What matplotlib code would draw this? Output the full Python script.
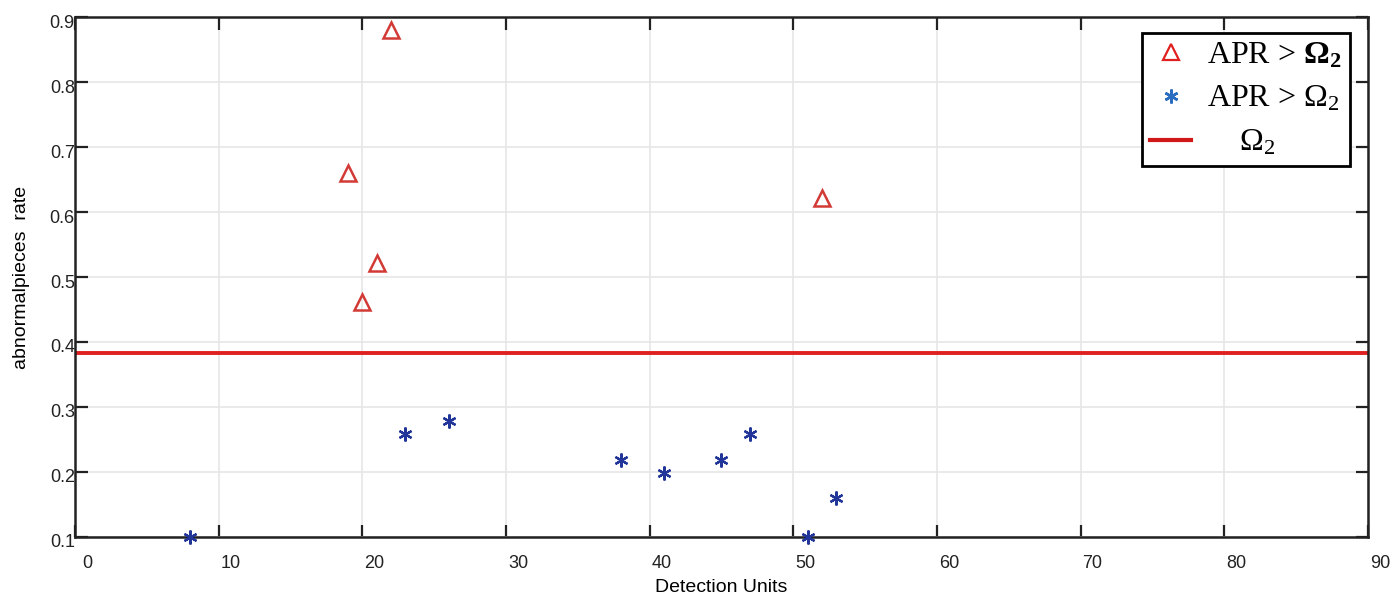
import matplotlib
matplotlib.use("Agg")
import matplotlib.pyplot as plt
import matplotlib.transforms as mtransforms
from matplotlib.lines import Line2D

plt.rcParams['font.family'] = ['Liberation Sans', 'DejaVu Sans']
plt.rcParams['mathtext.fontset'] = 'custom'
plt.rcParams['mathtext.rm'] = 'Liberation Serif'
plt.rcParams['mathtext.it'] = 'Liberation Serif:italic'
plt.rcParams['mathtext.bf'] = 'Liberation Serif:bold'

##### DATA
# units above the threshold (triangles)
above_x = [22, 19, 21, 20, 52]
above_y = [0.88, 0.66, 0.522, 0.462, 0.622]

# units below the threshold (asterisks)
below_x = [8, 23, 26, 38, 41, 45, 47, 51, 53]
below_y = [0.10, 0.258, 0.278, 0.218, 0.198, 0.218, 0.258, 0.10, 0.16]

# threshold Omega_2
omega2 = 0.383

x_ticks = [0, 10, 20, 30, 40, 50, 60, 70, 80, 90]
y_ticks = [0.1, 0.2, 0.3, 0.4, 0.5, 0.6, 0.7, 0.8, 0.9]

red = '#d23a36'
blue = '#22369a'

##### PLOTTING
fig = plt.figure(figsize=(13.94, 6.01), dpi=100)
ax = fig.add_axes([0.0538, 0.1065, 0.9275, 0.8652])

ax.grid(True, color='#e6e6e6', linewidth=1.2, zorder=0)
ax.axhline(omega2, color='#e02020', linewidth=2.8, zorder=2)
ax.plot(above_x, above_y, '^', markersize=11, markerfacecolor='none',
        markeredgecolor=red, markeredgewidth=1.8, linestyle='none', zorder=3)
ax.plot(below_x, below_y, marker=(6, 2, 0), markersize=10, color=blue,
        markeredgewidth=1.6, linestyle='none', zorder=3, clip_on=False)

ax.set_xlim(0, 90)
ax.set_ylim(0.1, 0.9)
ax.set_xticks(x_ticks)
ax.set_yticks(y_ticks)
ax.set_xticklabels([str(t) for t in x_ticks])
ax.set_yticklabels(['{:.1f}'.format(t) for t in y_ticks])
ax.tick_params(direction='in', length=9, width=1.6, top=True, right=True,
               labelsize=13, colors='#222222', pad=3)
for s in ax.spines.values():
    s.set_linewidth(1.8)
    s.set_color('#222222')

# shift tick labels like the original
dx = mtransforms.ScaledTranslation(12 / 100, -14 / 100, fig.dpi_scale_trans)
for lab in ax.get_xticklabels():
    lab.set_transform(lab.get_transform() + dx)
dy = mtransforms.ScaledTranslation(4 / 100, -4 / 100, fig.dpi_scale_trans)
for lab in ax.get_yticklabels():
    lab.set_transform(lab.get_transform() + dy)

ax.set_xlabel('Detection Units', fontsize=14, labelpad=5)
ax.set_ylabel('abnormalpieces  rate', fontsize=14, labelpad=14)

handles = [
    Line2D([], [], marker='^', markersize=12, markerfacecolor='none',
           markeredgecolor='#e02020', markeredgewidth=1.6, linestyle='none'),
    Line2D([], [], marker=(6, 2, 0), markersize=10, color='#2a6cc0',
           markeredgewidth=1.8, linestyle='none'),
    Line2D([], [], color='#d01818', linewidth=3),
]
labels = [r'APR > $\mathbf{\Omega_2}$', r'APR > $\Omega_2$', r'    $\Omega_2$']
leg = ax.legend(handles, labels, loc='upper right', bbox_to_anchor=(0.986, 0.97),
                prop={'family': 'Liberation Serif', 'size': 23},
                fancybox=False, framealpha=1, edgecolor='black',
                handlelength=1.3, handletextpad=0.5, borderpad=0.25,
                labelspacing=0.45, borderaxespad=0)
leg.get_frame().set_linewidth(2)

fig.savefig('out.png', dpi=100)
